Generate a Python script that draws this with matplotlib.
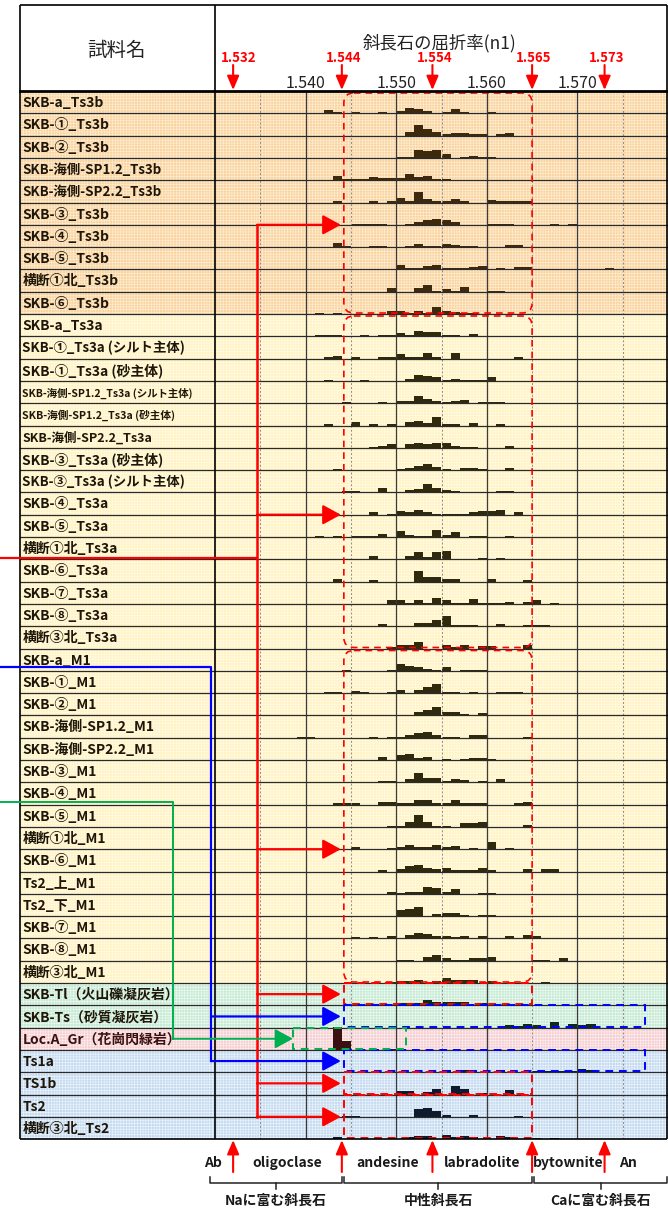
import matplotlib.pyplot as plt
from matplotlib.patches import FancyBboxPatch, Rectangle

plt.rcParams['font.family'] = ['Noto Sans CJK JP', 'DejaVu Sans']
plt.rcParams['hatch.linewidth'] = 0.4

# ---- data ----
ts3b_labels = ['SKB-a_Ts3b', 'SKB-①_Ts3b', 'SKB-②_Ts3b', 'SKB-海側-SP1.2_Ts3b', 'SKB-海側-SP2.2_Ts3b',
               'SKB-③_Ts3b', 'SKB-④_Ts3b', 'SKB-⑤_Ts3b', '横断①北_Ts3b', 'SKB-⑥_Ts3b']
ts3a_labels = ['SKB-a_Ts3a', 'SKB-①_Ts3a (シルト主体)', 'SKB-①_Ts3a (砂主体)',
               'SKB-海側-SP1.2_Ts3a (シルト主体)', 'SKB-海側-SP1.2_Ts3a (砂主体)', 'SKB-海側-SP2.2_Ts3a',
               'SKB-③_Ts3a (砂主体)', 'SKB-③_Ts3a (シルト主体)', 'SKB-④_Ts3a', 'SKB-⑤_Ts3a',
               '横断①北_Ts3a', 'SKB-⑥_Ts3a', 'SKB-⑦_Ts3a', 'SKB-⑧_Ts3a', '横断③北_Ts3a']
m1_labels = ['SKB-a_M1', 'SKB-①_M1', 'SKB-②_M1', 'SKB-海側-SP1.2_M1', 'SKB-海側-SP2.2_M1', 'SKB-③_M1',
             'SKB-④_M1', 'SKB-⑤_M1', '横断①北_M1', 'SKB-⑥_M1', 'Ts2_上_M1', 'Ts2_下_M1', 'SKB-⑦_M1',
             'SKB-⑧_M1', '横断③北_M1']
other_labels = ['SKB-Tl（火山礫凝灰岩）', 'SKB-Ts（砂質凝灰岩）', 'Loc.A_Gr（花崗閃緑岩）',
                'Ts1a', 'TS1b', 'Ts2', '横断③北_Ts2']

# histogram: first bin (refractive index) and counts per 0.001 bin
ts3b_start = [1.542, 1.551, 1.550, 1.543, 1.543, 1.545, 1.543, 1.550, 1.549, 1.541]
ts3b_counts = [
    [3, 1, 0, 1, 0, 0, 1, 0, 2, 5, 4, 2, 0, 1, 4, 1, 0, 0, 1],
    [3, 9, 6, 3, 1, 2, 2, 1, 1, 0, 1, 2],
    [1, 1, 7, 6, 7, 3, 0, 1, 2, 1, 1],
    [4, 1, 1, 1, 3, 2, 2, 2, 5, 3, 4, 1, 1],
    [1, 0, 0, 0, 1, 0, 1, 4, 1, 9, 3, 1, 1, 3, 1, 0, 0, 2, 1, 1, 1, 1],
    [1, 1, 1, 1, 0, 0, 1, 2, 4, 5, 4, 2, 0, 0, 0, 1, 1, 1, 0, 0, 0, 0, 1, 0, 1],
    [4, 1, 0, 0, 1, 1, 0, 0, 1, 3, 1, 1, 3, 2, 1, 1, 0, 0, 0, 2, 2],
    [4, 1, 1, 3, 4, 1, 1, 1, 2, 3, 0, 1, 0, 2, 2, 0, 0, 0, 0, 0, 0, 0, 0, 1],
    [3, 0, 0, 3, 6, 1, 2, 1, 4, 0, 0, 1, 1],
    [1, 0, 1, 0, 0, 0, 0, 0, 3, 3, 1, 3, 1, 6, 3, 2, 1, 1],
]
ts3a_start = [1.541, 1.542, 1.542, 1.544, 1.542, 1.547, 1.543, 1.544, 1.547, 1.541,
              1.547, 1.543, 1.549, 1.548, 1.549]
ts3a_counts = [
    [1, 1, 1, 0, 0, 1, 0, 1, 1, 3, 1, 5, 4, 4, 1, 1, 0, 2],
    [1, 2, 0, 1, 0, 0, 1, 1, 4, 1, 1, 5, 1, 0, 5, 0, 0, 0, 0, 0, 0, 1],
    [1, 0, 0, 0, 1, 0, 0, 0, 0, 2, 5, 4, 3, 1, 2, 1, 1, 1, 3],
    [1, 0, 0, 0, 1, 0, 2, 2, 6, 4, 2, 1, 2, 3, 0, 1, 1, 1],
    [1, 0, 0, 3, 0, 1, 0, 1, 0, 3, 4, 2, 7, 1, 1, 0, 2, 0, 0, 1],
    [1, 2, 3, 0, 3, 4, 3, 4, 4, 2, 1, 1, 0, 0, 0, 2],
    [1, 0, 0, 0, 0, 0, 0, 1, 2, 4, 5, 3, 1, 0, 2, 2, 1, 0, 0, 2],
    [1, 1, 0, 0, 4, 0, 0, 2, 3, 7, 4, 2, 1, 0, 0, 0, 0, 1, 1],
    [2, 0, 1, 3, 2, 4, 2, 1, 1, 1, 1, 2, 3, 3, 4, 0, 2],
    [1, 0, 1, 0, 1, 1, 1, 3, 0, 5, 2, 1, 1, 6, 2, 4, 0, 1, 1, 0, 0, 1],
    [3, 0, 0, 0, 3, 6, 2, 6, 7, 0, 0, 0, 1, 0, 1],
    [2, 0, 0, 0, 1, 0, 0, 0, 0, 9, 4, 4, 2, 2, 0, 0, 0, 2, 0, 0, 0, 1],
    [3, 3, 1, 3, 1, 5, 3, 1, 1, 4, 1, 1, 1, 2, 0, 2, 3, 0, 1],
    [2, 0, 0, 0, 3, 3, 5, 9, 1, 1, 1, 0, 0, 2, 0, 0, 1, 1, 1],
    [1, 3, 3, 6, 0, 0, 3, 1, 3, 0, 2, 2, 0, 0, 0, 3],
]
m1_start = [1.544, 1.542, 1.552, 1.539, 1.548, 1.548, 1.543, 1.549, 1.545, 1.548,
            1.549, 1.550, 1.545, 1.550, 1.549]
m1_counts = [
    [1, 0, 0, 0, 0, 1, 6, 4, 3, 2, 1, 3, 0, 1, 1, 1],
    [1, 1, 0, 2, 1, 0, 0, 1, 3, 0, 3, 5, 8, 1, 1, 0, 1, 0, 0, 1, 1, 1],
    [3, 5, 7, 3, 3, 1, 0, 2],
    [1, 1, 0, 0, 0, 0, 0, 0, 1, 0, 1, 1, 2, 4, 5, 2, 1, 1, 0, 2, 2, 0, 0, 0, 0, 1],
    [3, 0, 4, 5, 2, 3, 0, 1, 0, 1, 2, 2, 1],
    [1, 1, 0, 3, 8, 4, 4, 1, 3, 2, 0, 1, 0, 3],
    [1, 1, 1, 0, 0, 2, 2, 1, 1, 4, 4, 1, 1, 4, 1, 1, 1, 0, 0, 0, 1, 2],
    [1, 1, 4, 10, 4, 1, 1, 0, 3, 3, 4, 0, 0, 0, 0, 2],
    [2, 0, 0, 0, 1, 2, 4, 2, 2, 4, 2, 3, 0, 1, 0, 6, 0, 1],
    [1, 0, 2, 5, 6, 3, 2, 3, 1, 1, 1, 3, 1, 0, 0, 0, 2, 0, 2, 2],
    [2, 1, 2, 2, 6, 5, 2, 4, 0, 0, 1, 1],
    [5, 6, 8, 0, 2, 3, 3, 1, 0, 1, 1],
    [1, 0, 1, 0, 2, 0, 3, 5, 4, 2, 2, 1, 2, 0, 2, 0, 0, 2, 0, 3, 2],
    [1, 1, 0, 3, 5, 2, 1, 1, 2, 2, 3, 0, 0, 0, 0, 1, 1, 0, 2],
    [1, 2, 2, 3, 0, 2, 4, 3, 3, 3, 0, 2, 0, 0, 0, 0, 0, 1],
]
other_start = [1.550, 1.562, 1.543, 1.555, 1.550, 1.544, 1.543]
other_counts = [
    [2, 2, 2, 5, 3, 3, 3, 3, 0, 2],
    [2, 1, 3, 2, 0, 5, 0, 3, 2, 3],
    [20, 8, 0, 0, 0, 0, 1],
    [2, 0, 2, 0, 0, 0, 2, 0, 0, 0, 1, 1, 1, 1, 1, 3, 2],
    [3, 3, 0, 2, 5, 0, 7, 5, 0, 1, 0, 0, 4],
    [1, 1, 0, 0, 0, 0, 0, 0, 7, 8, 5, 2, 0, 0, 2, 0, 0, 0, 0, 1],
    [2, 0, 0, 0, 0, 0, 0, 0, 2, 3, 3, 0, 4, 2, 3, 2, 0, 0, 3, 2, 0, 0, 1, 0, 1],
]

major_ticks = [1.540, 1.550, 1.560, 1.570]
minor_ticks = [1.535, 1.545, 1.555, 1.565, 1.575]
marks = [1.532, 1.544, 1.554, 1.565, 1.573]          # red arrows
minerals = ['Ab', 'oligoclase', 'andesine', 'labradolite', 'bytownite', 'An']
groups = ['Naに富む斜長石', '中性斜長石', 'Caに富む斜長石']

# label font sizes that differ from the default
label_size = {
    'SKB-海側-SP1.2_Ts3b': 9.6, 'SKB-海側-SP2.2_Ts3b': 9.6,
    'SKB-①_Ts3a (シルト主体)': 9.6, 'SKB-③_Ts3a (シルト主体)': 9.6,
    'SKB-海側-SP1.2_Ts3a (シルト主体)': 7.5, 'SKB-海側-SP1.2_Ts3a (砂主体)': 7.7,
    'SKB-海側-SP2.2_Ts3a': 9.0,
}

# ---- layout (pixels) ----
W, H = 668, 1211
TOP, ROW_H = 91, 22.3
X0, X1 = 215, 668
N_MIN, N_MAX, BIN = 1.530, 1.580, 0.001
PX = 1.15 / ROW_H   # one count ~ one pixel
n_rows = len(ts3b_labels) + len(ts3a_labels) + len(m1_labels) + len(other_labels)
BOTTOM = TOP + n_rows * ROW_H


def xpx(n):
    return X0 + (n - N_MIN) / (N_MAX - N_MIN) * (X1 - X0)


def ypx(r):
    return TOP + r * ROW_H


fig = plt.figure(figsize=(W / 100, H / 100), dpi=100)


def px_axes(x0, y0, x1, y1):
    return fig.add_axes([x0 / W, 1 - y1 / H, (x1 - x0) / W, (y1 - y0) / H])


ax = px_axes(X0, TOP, X1, BOTTOM)
lab = px_axes(20, TOP, X0, BOTTOM)
ov = px_axes(0, 0, W, H)
for a in (ax, lab):
    a.set_ylim(n_rows, 0)
    a.axis('off')
ax.set_xlim(N_MIN, N_MAX)
lab.set_xlim(0, 1)
ov.set_xlim(0, W)
ov.set_ylim(H, 0)
ov.axis('off')
ov.set_zorder(10)

# background, hatch colour, bar colour per kind of row
ORANGE = ('#fad4a0', '#fff0da', '#3d2a0e')
YELLOW = ('#fff3c3', '#fffbe8', '#2f2a0e')
GREEN = ('#c6ead4', '#f0faf4', '#0f2a1a')
PINK = ('#f6cfd2', '#fdf2f3', '#3a1010')
BLUE = ('#c6dbf0', '#eef5fc', '#0e1a2e')

blocks = [
    (ts3b_labels, ts3b_start, ts3b_counts, [ORANGE] * 10),
    (ts3a_labels, ts3a_start, ts3a_counts, [YELLOW] * 15),
    (m1_labels, m1_start, m1_counts, [YELLOW] * 15),
    (other_labels, other_start, other_counts, [GREEN, GREEN, PINK, BLUE, BLUE, BLUE, BLUE]),
]

r = 0
for labels, starts, counts, styles in blocks:
    for name, st, cnt, (bg, hc, bc) in zip(labels, starts, counts, styles):
        for a in (ax, lab):
            a.axhspan(r, r + 1, facecolor=bg, edgecolor=hc, hatch='++++++', lw=0, zorder=0)
        lefts = [st + i * BIN for i in range(len(cnt))]
        ax.bar(lefts, [-c * PX for c in cnt], width=BIN, bottom=r + 1, align='edge',
               color=bc, linewidth=0, zorder=2)
        tc = '#3a1010' if name.startswith('Loc.') else '#1e1608'
        lab.text(0.012, r + 0.54, name, ha='left', va='center',
                 fontsize=label_size.get(name, 10), fontweight='bold', color=tc)
        r += 1

# grid
for v in major_ticks:
    ax.axvline(v, color='#3a3a3a', lw=0.9, zorder=3)
for v in minor_ticks:
    ax.axvline(v, color='#8c8c8c', lw=0.7, ls=(0, (2, 2)), zorder=3)
for k in range(1, n_rows):
    ax.axhline(k, color='#2a2a2a', lw=0.9, zorder=3)
    lab.axhline(k, color='#2a2a2a', lw=0.9, zorder=3)

# table frame
k = dict(color='black', lw=1.2, solid_capstyle='butt')
ov.plot([20, 667], [5, 5], **k)
ov.plot([20, 20], [5, BOTTOM], **k)
ov.plot([667, 667], [5, BOTTOM], **k)
ov.plot([X0, X0], [5, BOTTOM], **k)
ov.plot([20, 667], [BOTTOM, BOTTOM], **k)
ov.plot([20, 667], [TOP, TOP], color='black', lw=2)

# header
ov.text(117, 50, '試料名', ha='center', va='center', fontsize=14, color='#222222')
ov.text(440, 43, '斜長石の屈折率(n1)', ha='center', va='center', fontsize=12.5, color='#222222')
for v in major_ticks:
    ov.text(xpx(v), 83, f'{v:.3f}', ha='center', va='center', fontsize=11.5, color='#222222')
for v in marks:
    ov.text(xpx(v) + (6 if v == marks[0] else 2), 58, f'{v:.3f}', ha='center', va='center',
            fontsize=9.5, fontweight='bold', color='red')
    ov.annotate('', xy=(xpx(v), TOP - 1), xytext=(xpx(v), 65),
                arrowprops=dict(arrowstyle='-|>,head_length=0.7,head_width=0.3', color='red',
                                lw=1.5, mutation_scale=12, shrinkA=0, shrinkB=0))

# footer
for v in marks:
    ov.annotate('', xy=(xpx(v), BOTTOM + 1), xytext=(xpx(v), 1172),
                arrowprops=dict(arrowstyle='-|>,head_length=0.7,head_width=0.3', color='red',
                                lw=1.5, mutation_scale=12, shrinkA=0, shrinkB=0))
mx = [xpx(marks[0]) - 20] + [(xpx(a) + xpx(b)) / 2 for a, b in zip(marks[:-1], marks[1:])] \
     + [xpx(marks[-1]) + 23]
for name, x in zip(minerals, mx):
    ov.text(x, 1163, name, ha='center', va='center', fontsize=10, fontweight='bold',
            color='#1a1a1a')
spans = [(210, xpx(1.544)), (xpx(1.544) + 2, xpx(1.565)), (xpx(1.565) + 2, 667)]
for name, (a, b) in zip(groups, spans):
    c = (a + b) / 2
    ov.plot([a, a, b, b], [1177, 1183, 1183, 1177], color='#222222', lw=1.1)
    ov.plot([c, c], [1183, 1189], color='#222222', lw=1.1)
    ov.text(c, 1201, name, ha='center', va='center', fontsize=10, fontweight='bold',
            color='#1a1a1a')

# dashed ranges
box_l, box_r = xpx(1.544) + 2, xpx(1.565)
for r0, r1 in [(0, 10), (10, 25), (25, 40)]:
    ov.add_patch(FancyBboxPatch((box_l, ypx(r0) + 2), box_r - box_l, ypx(r1) - ypx(r0) - 3,
                                boxstyle='round,pad=0,rounding_size=10', fill=False,
                                ec='red', lw=1.2, ls=(0, (4, 3))))
rects = [(40, 41, box_r, 'red'), (41, 42, xpx(1.5775), 'blue'), (43, 44, xpx(1.5775), 'blue'),
         (44, 45, box_r, 'red'), (45, 47, box_r, 'red')]
for r0, r1, right, c in rects:
    ov.add_patch(Rectangle((box_l, ypx(r0)), right - box_l, ypx(r1) - ypx(r0) - 1,
                           fill=False, ec=c, lw=1.4, ls=(0, (4, 3))))
g_l, g_r = xpx(1.5386), xpx(1.5511)
ov.add_patch(Rectangle((g_l, ypx(42)), g_r - g_l, ROW_H - 1, fill=False, ec='#00b050',
                       lw=1.4, ls=(0, (4, 3))))

# connectors
head = dict(arrowstyle='-|>,head_length=0.55,head_width=0.3', mutation_scale=20,
            shrinkA=0, shrinkB=0)
tip = xpx(1.544) - 1
red_x, blue_x, green_x = 257, 211, 173
ov.plot([0, red_x], [ypx(20.92)] * 2, color='red', lw=1.6)
ov.plot([red_x, red_x], [ypx(6), ypx(46)], color='red', lw=1.8)
for rr in [6, 19, 34, 40.5, 44.5, 46]:
    ov.annotate('', xy=(tip, ypx(rr)), xytext=(red_x, ypx(rr)),
                arrowprops=dict(color='red', lw=1.6, **head))
ov.plot([0, blue_x, blue_x], [ypx(25.85), ypx(25.85), ypx(43.5)], color='blue', lw=1.6)
for rr in [41.5, 43.5]:
    ov.annotate('', xy=(tip, ypx(rr)), xytext=(blue_x, ypx(rr)),
                arrowprops=dict(color='blue', lw=1.6, **head))
ov.plot([0, green_x, green_x], [ypx(31.9), ypx(31.9), ypx(42.5)], color='#00b050', lw=1.4)
ov.annotate('', xy=(g_l, ypx(42.5)), xytext=(green_x, ypx(42.5)),
            arrowprops=dict(color='#00b050', lw=1.4, **head))

fig.savefig('out.png', dpi=100)
